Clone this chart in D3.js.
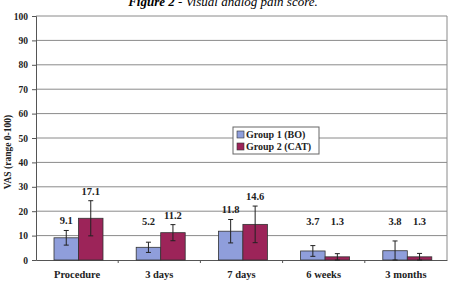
<!DOCTYPE html>
<html>
<head>
<meta charset="utf-8">
<script src="https://cdn.jsdelivr.net/npm/d3@7"></script>
<style>
body { margin: 0; background: #fff; }
svg text { font-family: "Liberation Serif", "Times New Roman", serif; }
</style>
</head>
<body>
<div id="chart"></div>
<script>
var categories = ["Procedure", "3 days", "7 days", "6 weeks", "3 months"];
var seriesNames = ["Group 1 (BO)", "Group 2 (CAT)"];
var group1 = [9.1, 5.2, 11.8, 3.7, 3.8];
var group2 = [17.1, 11.2, 14.6, 1.3, 1.3];
var group1Err = [3.0, 2.1, 4.8, 2.2, 4.0];
var group2Err = [7.2, 3.3, 7.5, 1.3, 1.4];
var yTicks = [0, 10, 20, 30, 40, 50, 60, 70, 80, 90, 100];

var width = 456, height = 284;
var margin = { top: 16, right: 9, bottom: 24, left: 36 };
var plotW = width - margin.left - margin.right,
    plotH = height - margin.top - margin.bottom;
var colors = ["#8f9edb", "#9c2459"];

var svg = d3.select("#chart").append("svg")
    .attr("width", width)
    .attr("height", height);

// title, cut off at the top like the scan
var title = svg.append("text")
    .attr("x", 223)
    .attr("y", 6)
    .attr("text-anchor", "middle")
    .style("font-size", "13px")
    .style("font-style", "italic");
title.append("tspan").style("font-weight", "bold").text("Figure 2");
title.append("tspan").text(" - Visual analog pain score.");

var g = svg.append("g")
    .attr("transform", "translate(" + margin.left + "," + margin.top + ")");

var x = d3.scaleBand().domain(categories).range([0, plotW]);
var xs = d3.scaleBand().domain(seriesNames).range([18, 67]);
var y = d3.scaleLinear().domain([0, 100]).range([plotH, 0]);

// gridlines
g.selectAll(".grid")
    .data(yTicks.filter(function (d) { return d > 0; }))
    .enter().append("line")
    .attr("x1", 0).attr("x2", plotW)
    .attr("y1", function (d) { return y(d); })
    .attr("y2", function (d) { return y(d); })
    .attr("stroke", "#8a8a8a")
    .attr("stroke-width", 1);

g.append("line")
    .attr("x1", plotW).attr("x2", plotW)
    .attr("y1", 0).attr("y2", plotH)
    .attr("stroke", "#8a8a8a");

// y axis
var yAxis = g.append("g")
    .call(d3.axisLeft(y).tickValues(yTicks).tickSize(4).tickPadding(4));
yAxis.select(".domain").attr("stroke", "#555");
yAxis.selectAll(".tick line").attr("stroke", "#555");
yAxis.selectAll("text")
    .style("font-size", "9.5px")
    .style("font-weight", "bold")
    .attr("fill", "#222");

svg.append("text")
    .attr("transform", "translate(11," + 152 + ") rotate(-90)")
    .attr("text-anchor", "middle")
    .style("font-size", "9.5px")
    .style("font-weight", "bold")
    .attr("fill", "#222")
    .text("VAS (range 0-100)");

// x axis
var xAxis = g.append("g")
    .attr("transform", "translate(0," + plotH + ")")
    .call(d3.axisBottom(x).tickSize(0).tickPadding(11));
xAxis.select(".domain").attr("stroke", "#555");
xAxis.selectAll("text")
    .style("font-size", "10.5px")
    .style("font-weight", "bold")
    .attr("fill", "#222");
g.selectAll(".xtick")
    .data(categories.slice(1))
    .enter().append("line")
    .attr("x1", function (d) { return x(d); })
    .attr("x2", function (d) { return x(d); })
    .attr("y1", plotH).attr("y2", plotH + 3)
    .attr("stroke", "#555");

// bars
var rows = [];
categories.forEach(function (c, i) {
    rows.push({ cat: c, s: seriesNames[0], v: group1[i], e: group1Err[i], k: 0 });
    rows.push({ cat: c, s: seriesNames[1], v: group2[i], e: group2Err[i], k: 1 });
});

g.selectAll(".bar")
    .data(rows)
    .enter().append("rect")
    .attr("class", "bar")
    .attr("x", function (d) { return x(d.cat) + xs(d.s); })
    .attr("width", xs.bandwidth())
    .attr("y", function (d) { return y(d.v); })
    .attr("height", function (d) { return plotH - y(d.v); })
    .attr("fill", function (d) { return colors[d.k]; })
    .attr("stroke", "#333")
    .attr("stroke-width", 0.8);

// error bars
var cx = function (d) { return x(d.cat) + xs(d.s) + xs.bandwidth() / 2; };
var err = g.selectAll(".err").data(rows).enter().append("g")
    .attr("stroke", "#222").attr("stroke-width", 1);
err.append("line")
    .attr("x1", cx).attr("x2", cx)
    .attr("y1", function (d) { return y(d.v + d.e); })
    .attr("y2", function (d) { return y(Math.max(0, d.v - d.e)); });
err.append("line")
    .attr("x1", function (d) { return cx(d) - 2.5; })
    .attr("x2", function (d) { return cx(d) + 2.5; })
    .attr("y1", function (d) { return y(d.v + d.e); })
    .attr("y2", function (d) { return y(d.v + d.e); });
err.append("line")
    .attr("x1", function (d) { return cx(d) - 2.5; })
    .attr("x2", function (d) { return cx(d) + 2.5; })
    .attr("y1", function (d) { return y(Math.max(0, d.v - d.e)); })
    .attr("y2", function (d) { return y(Math.max(0, d.v - d.e)); });

// value labels
g.selectAll(".lbl")
    .data(rows)
    .enter().append("text")
    .attr("x", cx)
    .attr("y", function (d) { return Math.min(y(d.v + d.e) - 6, y(14.5)); })
    .attr("text-anchor", "middle")
    .style("font-size", "10.5px")
    .style("font-weight", "bold")
    .attr("fill", "#222")
    .text(function (d) { return d3.format(".1f")(d.v); });

// legend
var legend = svg.append("g").attr("transform", "translate(233,127)");
legend.append("rect")
    .attr("width", 86).attr("height", 27)
    .attr("fill", "#fff").attr("stroke", "#666");
seriesNames.forEach(function (s, i) {
    legend.append("rect")
        .attr("x", 4).attr("y", 4 + i * 12)
        .attr("width", 7).attr("height", 7)
        .attr("fill", colors[i]).attr("stroke", "#333").attr("stroke-width", 0.6);
    legend.append("text")
        .attr("x", 13).attr("y", 11 + i * 12)
        .style("font-size", "10px")
        .style("font-weight", "bold")
        .attr("fill", "#222")
        .text(s);
});
</script>
</body>
</html>
